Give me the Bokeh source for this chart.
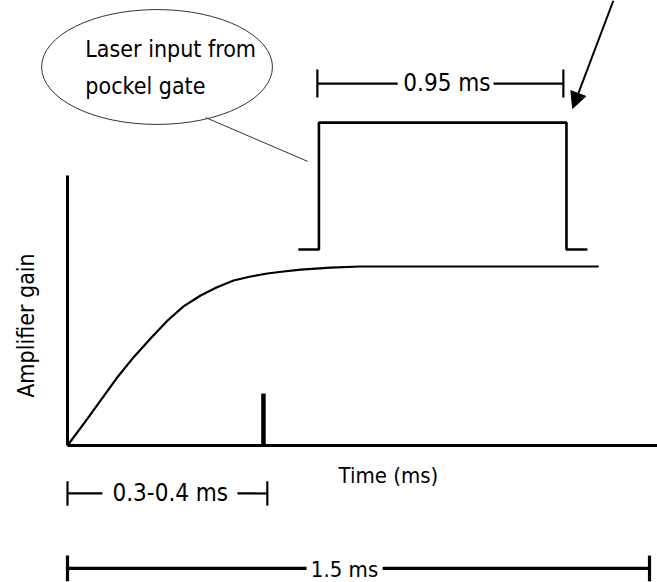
from bokeh.plotting import figure
from bokeh.models import Arrow, NormalHead, Range1d
from bokeh.core.properties import value
from bokeh.embed import file_html
from bokeh.resources import INLINE

# ---------------- data (time in ms, gain normalised to plateau = 1) ----------------
curve_t = [0.0, 0.044, 0.085, 0.126, 0.170, 0.214, 0.258, 0.299, 0.343, 0.384,
           0.428, 0.472, 0.515, 0.557, 0.601, 0.678, 0.755, 1.369]
curve_g = [0.0, 0.128, 0.251, 0.374, 0.492, 0.598, 0.698, 0.777, 0.838, 0.883,
           0.922, 0.944, 0.961, 0.972, 0.983, 0.994, 1.0, 1.0]

pulse_t = [0.595, 0.648, 0.648, 1.286, 1.286, 1.340]
pulse_level = [1.095, 1.095, 1.804, 1.804, 1.095, 1.095]

gate_t = 0.505
gate_h = 0.29

axis_t_max = 1.521
axis_g_max = 1.508

dur_labels = ["0.95 ms", "0.3-0.4 ms", "1.5 ms"]
dur_start = [0.644, 0.0, 0.0]
dur_end = [1.278, 0.515, 1.5]

x_label = "Time (ms)"
y_label = "Amplifier gain"
callout_lines = ["Laser input from", "pockel gate"]

FONT = value("DejaVu Sans Condensed, Liberation Sans, sans-serif")

p = figure(width=657, height=582, output_backend="svg", toolbar_location=None,
           x_range=Range1d(-0.17268, 1.52062), y_range=Range1d(-0.7654, 2.4860),
           min_border=0)
p.axis.visible = False
p.grid.visible = False
p.outline_line_color = None
p.background_fill_color = "white"
p.border_fill_color = "white"

# axes
p.segment(x0=[0, 0], y0=[0, 0], x1=[0, axis_t_max], y1=[axis_g_max, 0],
          line_color="black", line_width=3)

# gain curve
p.line(curve_t, curve_g, line_color="black", line_width=2.2)

# pulse
p.line(pulse_t, pulse_level, line_color="black", line_width=2.6)

# gate marker
p.segment(x0=[gate_t], y0=[0], x1=[gate_t], y1=[gate_h], line_color="black", line_width=4.5)

# duration brackets: (y, text gap left, text gap right, text x, text baseline, cap half, width, font px)
brk = [
    (2.022, 0.851, 1.098, 0.978, 2.023, 0.078, 2.2, 24),
    (-0.268, 0.090, 0.438, 0.265, -0.268, 0.068, 2.2, 24),
    (-0.687, 0.616, 0.812, 0.714, -0.692, 0.072, 3.2, 22),
]
for i, (yy, g0, g1, tx, ty, ch, lw, fs) in enumerate(brk):
    a, b = dur_start[i], dur_end[i]
    p.segment(x0=[a, g1, a, b], y0=[yy, yy, yy - ch, yy - ch],
              x1=[g0, b, a, b], y1=[yy, yy, yy + ch, yy + ch],
              line_color="black", line_width=lw)
    p.text(x=[tx], y=[ty], text=[dur_labels[i]], text_font=FONT,
           text_font_size=f"{fs}px", text_align="center", text_baseline="alphabetic",
           text_color="black")

# axis labels
p.text(x=[0.827], y=[-0.167], text=[x_label], text_font=FONT, text_font_size="22px",
       text_align="center", text_baseline="alphabetic", text_color="black")
p.text(x=[-0.1057], y=[0.67], text=[y_label], text_font=FONT, text_font_size="23px",
       text_align="center", text_baseline="alphabetic", angle=1.5708, text_color="black")

# callout ellipse
p.ellipse(x=[0.2307], y=[2.1145], width=[0.595], height=[0.642],
          fill_color=None, line_color="#333333", line_width=1)
p.text(x=[0.046, 0.046], y=[2.213, 2.011], text=callout_lines, text_font=FONT,
       text_font_size="23px", text_align="left", text_baseline="alphabetic",
       text_color="black")
p.segment(x0=[0.356], y0=[1.832], x1=[0.619], y1=[1.587], line_color="#333333", line_width=1)

# arrow pointing to the pulse end
p.add_layout(Arrow(end=NormalHead(size=16, fill_color="black", line_color="black"),
                   x_start=1.407, y_start=2.486, x_end=1.302, y_end=1.883,
                   line_color="black", line_width=2))

open("out.html", "w").write(file_html(p, INLINE))
